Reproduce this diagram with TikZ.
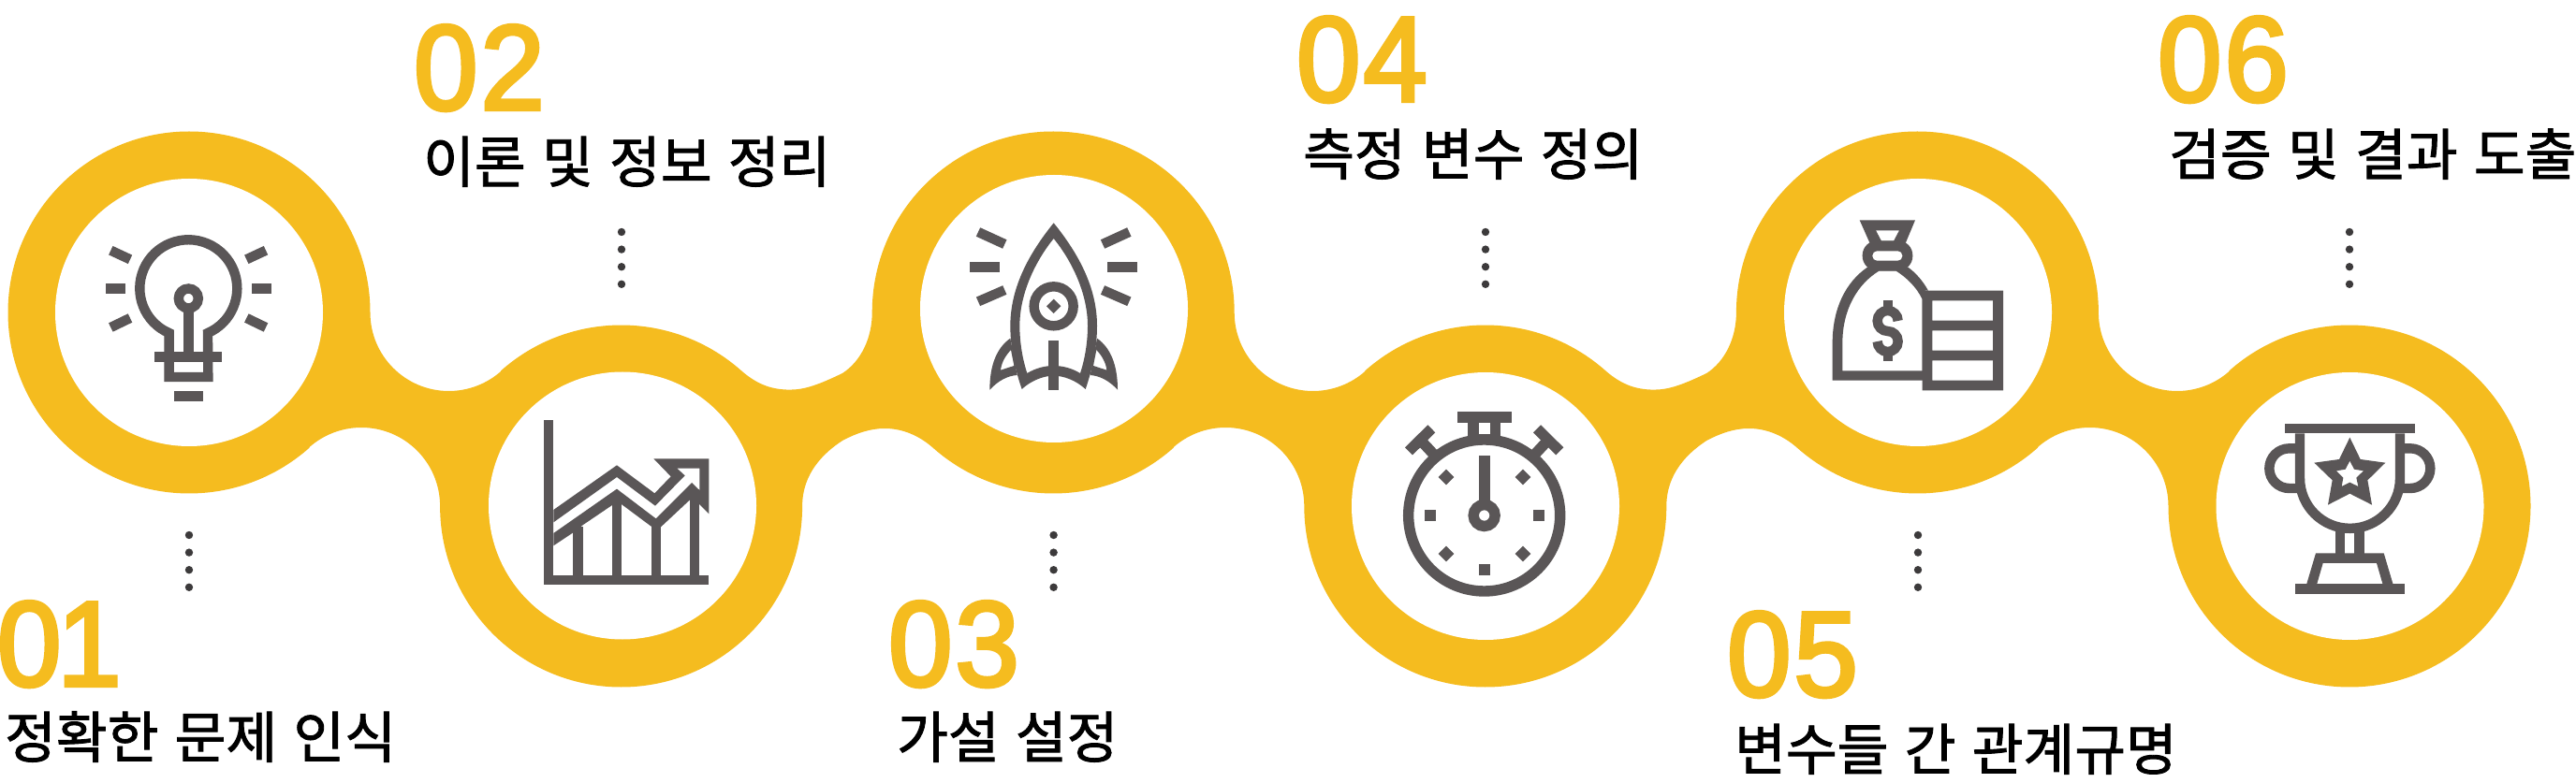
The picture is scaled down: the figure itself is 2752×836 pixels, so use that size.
\documentclass[tikz,border=0pt]{standalone}
\usepackage{fontspec}
\newfontfamily\kofont[WordSpace=1.3,FakeBold=1.5]{Noto Sans CJK KR}
\newfontfamily\numfont[FakeBold=3.2,FakeStretch=0.95,LetterSpace=2.5]{Liberation Sans}
\definecolor{band}{HTML}{F5BC1F}
\definecolor{ink}{HTML}{5A5657}
\definecolor{dotc}{HTML}{3C3A3B}
\tikzset{
  disc/.style={circle,fill=white,draw=none,inner sep=0pt,minimum size=286pt},
  numlabel/.style={anchor=base west,inner sep=0pt,text=band,font=\numfont\fontsize{129}{129}\selectfont},
  steplabel/.style={anchor=base west,inner sep=0pt,text=black,font=\kofont\fontsize{59.5}{60}\selectfont},
  dotmark/.style={fill=dotc},
  icon/.style={x=0.33333pt,y=-0.33333pt},
  stroke/.style={draw=ink,line width=10.4pt,line join=miter,fill=none},
  solid ink/.style={fill=ink,draw=none},
}
\def\arcat#1#2#3#4#5{-- ([shift={(#3:#5)}]#1,#2) arc (#3:#4:#5)}
\newcommand{\dotsat}[2]{\foreach \k in {0,1,2,3}{\fill[dotmark] (#1,{836-#2-18.6*\k}) circle[radius=4.2];}}
\begin{document}
\begin{tikzpicture}[x=1pt,y=1pt]
\useasboundingbox (0,0) rectangle (2752,836);
\fill[white] (0,0) rectangle (2752,836);
% band
\fill[band] ([shift={(180:193.5)}]202,502) arc (180:0:193.5)
 \arcat{479.5}{502}{180}{311.65}{84}
 \arcat{663.6}{295}{131.65}{48.35}{193.5}
 .. controls (810,424) and (826,419.4) .. (844,419.4)
 .. controls (860,419.4) and (875,425) .. (900,437)
 .. controls (920,450) and (931.7,475) .. (931.7,502)
 \arcat{1125.2}{502}{180}{0}{193.5}
 \arcat{1402.7}{502}{180}{311.65}{84}
 \arcat{1586.8}{295}{131.65}{48.35}{193.5}
 .. controls (1733.2,424) and (1749.2,419.4) .. (1767.2,419.4)
 .. controls (1783.2,419.4) and (1798.2,425) .. (1823.2,437)
 .. controls (1843.2,450) and (1854.9,475) .. (1854.9,502)
 \arcat{2048.4}{502}{180}{0}{193.5}
 \arcat{2325.9}{502}{180}{311.65}{84}
 \arcat{2510}{295}{131.65}{-180}{193.5}
 \arcat{2232.5}{295}{0}{131.65}{84}
 \arcat{2048.4}{502}{-48.35}{-131.65}{193.5}
 .. controls (1903.2,372) and (1885.2,378) .. (1868.2,378)
 .. controls (1853.2,378) and (1838.2,373) .. (1823.2,365)
 .. controls (1803.2,352) and (1780.3,330) .. (1780.3,295)
 \arcat{1586.8}{295}{0}{-180}{193.5}
 \arcat{1309.3}{295}{0}{131.65}{84}
 \arcat{1125.2}{502}{-48.35}{-131.65}{193.5}
 .. controls (980,372) and (962,378) .. (945,378)
 .. controls (930,378) and (915,373) .. (900,365)
 .. controls (880,352) and (857.1,330) .. (857.1,295)
 \arcat{663.6}{295}{0}{-180}{193.5}
 \arcat{386.1}{295}{0}{131.65}{84}
 \arcat{202}{502}{-48.35}{-180}{193.5}
 -- cycle;
% discs
\node[disc] (c1) at (202,502) {};
\node[disc] (c2) at (665,295.5) {};
\node[disc] (c3) at (1126,506) {};
\node[disc] (c4) at (1587,295) {};
\node[disc] (c5) at (2049,502) {};
\node[disc] (c6) at (2510.5,295) {};
% dots
\dotsat{202}{572}\dotsat{664}{248}\dotsat{1125.6}{572}\dotsat{1587}{248}\dotsat{2049}{572}\dotsat{2510}{248}
% bulb
\begin{scope}[shift={(80,616)},icon]
 \draw[stroke] (302,549) -- (302,408) arc (113.4:426.6:156) -- (427,549) -- cycle;
 \fill[solid ink] (255,468) rectangle (472,500);
 \draw[stroke] (364,297) circle[radius=31.5];
 \draw[stroke] (364.5,328) -- (364.5,470);
 \fill[solid ink] (318,595) rectangle (411,627);
 \fill[solid ink] (98,250) rectangle (162,282);
 \fill[solid ink] (566,250) rectangle (630,282);
 \draw[stroke] (115,143) -- (177,172);
 \draw[stroke] (612,143) -- (550,172);
 \draw[stroke] (115,390) -- (177,360);
 \draw[stroke] (612,390) -- (550,360);
\end{scope}
% chart
\begin{scope}[shift={(560,406)},icon]
 \fill[solid ink] (63,57) rectangle (94,586);
 \fill[solid ink] (63,555) rectangle (592,586);
 \fill[solid ink] (157,400) rectangle (189,555);
 \fill[solid ink] (282,300) rectangle (313,555);
 \fill[solid ink] (407,385) rectangle (438,555);
 \fill[solid ink] (531,280) rectangle (561,555);
 \fill[solid ink,even odd rule] (94,345) -- (297,202) -- (418,292) -- (470,238) -- (415,181) -- (592,181) -- (592,358) -- (561,327) -- (531,313) -- (438,400) -- (407,398) -- (313,328) -- (282,330) -- (189,393) -- (157,418) -- (94,460) -- cycle
  (94,385) -- (297,240) -- (420,332) -- (515,235) -- (490,212) -- (562,212) -- (562,283) -- (537,258) -- (422,373) -- (297,278) -- (94,420) -- cycle;
\end{scope}
% rocket
\begin{scope}[shift={(1020,616)},icon]
 \fill[solid ink,even odd rule] (317,55) .. controls (240,150) and (178,260) .. (178,385) .. controls (178,460) and (195,530) .. (215,588) .. controls (245,560) and (285,545) .. (317,545) .. controls (349,545) and (389,560) .. (419,588) .. controls (439,530) and (456,460) .. (456,385) .. controls (456,260) and (394,150) .. (317,55) -- cycle
  (317,105) .. controls (260,175) and (208,280) .. (208,385) .. controls (208,440) and (218,495) .. (232,537) .. controls (260,520) and (290,513) .. (317,513) .. controls (344,513) and (374,520) .. (402,537) .. controls (416,495) and (426,440) .. (426,385) .. controls (426,280) and (374,175) .. (317,105) -- cycle;
 \fill[solid ink,even odd rule] (178,425) .. controls (135,455) and (112,510) .. (112,590) .. controls (140,560) and (170,545) .. (200,543) -- cycle
  (147,527) .. controls (150,500) and (165,478) .. (180,462) -- (190,513) -- cycle;
 \fill[solid ink,even odd rule] (456,425) .. controls (499,455) and (522,510) .. (522,590) .. controls (494,560) and (464,545) .. (434,543) -- cycle
  (487,527) .. controls (484,500) and (469,478) .. (454,462) -- (444,513) -- cycle;
 \fill[solid ink] (301,432) rectangle (333,590);
 \draw[stroke] (317,322) circle[radius=63];
 \fill[solid ink] (317,299) -- (340,322) -- (317,345) -- (294,322) -- cycle;
 \fill[solid ink] (48,180) rectangle (145,212);
 \fill[solid ink] (489,180) rectangle (584,212);
 \draw[stroke] (75,84) -- (160,123);
 \draw[stroke] (559,84) -- (474,123);
 \draw[stroke] (75,307) -- (160,270);
 \draw[stroke] (559,307) -- (474,270);
\end{scope}
% stopwatch
\begin{scope}[shift={(1480,416)},icon]
 \draw[stroke,line width=11.4pt] (317,393) circle[radius=243];
 \fill[solid ink] (230,61) rectangle (405,97);
 \fill[solid ink] (265,97) rectangle (300,145);
 \fill[solid ink] (335,97) rectangle (370,145);
 \fill[solid ink] (300,132) rectangle (335,145);
 \draw[stroke,line width=11.4pt] (75,187) -- (148,115);
 \draw[stroke,line width=11.4pt] (112,151) -- (155,197);
 \draw[stroke,line width=11.4pt] (559,187) -- (486,115);
 \draw[stroke,line width=11.4pt] (522,151) -- (479,197);
 \fill[solid ink] (300,202) rectangle (335,360);
 \draw[stroke,line width=11.4pt] (317,393) circle[radius=34.5];
 \fill[solid ink] (126,375) rectangle (162,411);
 \fill[solid ink] (474,375) rectangle (510,411);
 \fill[solid ink] (300,549) rectangle (335,585);
 \foreach \dx/\dy in {195/270,441/270,195/516,441/516}{
  \fill[solid ink] (\dx,\dy-25) -- (\dx+25,\dy) -- (\dx,\dy+25) -- (\dx-25,\dy) -- cycle;}
\end{scope}
% money bag
\begin{scope}[shift={(1930,616)},icon]
 \fill[solid ink,even odd rule] (170,46) -- (348,46) -- (315,125) -- (205,125) -- cycle
  (222,79) -- (297,79) -- (279,113) -- (240,113) -- cycle;
 \fill[solid ink,rounded corners=15.5pt] (179,112) rectangle (340,208);
 \fill[white,rounded corners=5pt] (211,145) rectangle (307,176);
 \fill[solid ink,even odd rule] (195,197) .. controls (125,245) and (83,330) .. (83,440) -- (83,560) -- (380,560) -- (380,272) -- (390,272) .. controls (372,240) and (350,215) .. (325,197) -- cycle
  (232,209) .. controls (165,250) and (115,330) .. (115,440) -- (115,529) -- (371,529) -- (371,300) .. controls (352,260) and (320,230) .. (287,209) -- cycle;
 \fill[solid ink,even odd rule] (371,272) rectangle (630,592)
  (403,304) rectangle (597,368)
  (403,400) rectangle (597,464)
  (403,496) rectangle (597,560);
 \fill[solid ink] (245,304) rectangle (276,340);
 \fill[solid ink] (245,465) rectangle (276,497);
 \draw[stroke] (293,369) arc (0:-180:33) arc (180:90:33) arc (-90:180:33);
\end{scope}
% trophy
\begin{scope}[shift={(2400,406)},icon]
 \fill[solid ink] (122,68) rectangle (540,100);
 \draw[stroke] (171,100) -- (171,244) arc (180:0:160.5) -- (492,100);
 \draw[stroke] (165,148) -- (137,148) arc (-90:-270:64) -- (165,276);
 \draw[stroke] (497,148) -- (525,148) arc (-90:90:64) -- (497,276);
 \draw[stroke] (300,405) -- (300,490);
 \draw[stroke] (362,405) -- (362,490);
 \fill[solid ink,even odd rule] (222,484) -- (440,484) -- (470,585) -- (192,585) -- cycle
  (245,516) -- (417,516) -- (437,585) -- (225,585) -- cycle;
 \fill[solid ink] (155,582) rectangle (508,615);
 \fill[solid ink,even odd rule] (331,113) -- (365,183) -- (445,194) -- (388,250) -- (402,329) -- (331,293) -- (261,329) -- (275,250) -- (217,194) -- (297,183) -- cycle
  (331,188) -- (345,215) -- (375,220) -- (352,242) -- (358,270) -- (331,257) -- (305,270) -- (310,242) -- (288,220) -- (317,215) -- cycle;
\end{scope}
% numbers
\node[numlabel] (n1) at (-3,{836-733}) {0\kern-4pt 1};
\node[numlabel] (n2) at (442,{836-117}) {02};
\node[numlabel] (n3) at (949,{836-733}) {03};
\node[numlabel] (n4) at (1385,{836-108}) {04};
\node[numlabel] (n5) at (1845,{836-744}) {05};
\node[numlabel] (n6) at (2305,{836-108}) {06};
% step labels
\node[steplabel] (t1) at (5,{836-810}) {정확한 문제 인식};
\node[steplabel] (t2) at (452,{836-195}) {이론 및 정보 정리};
\node[steplabel] (t3) at (958,{836-810}) {가설 설정};
\node[steplabel] (t4) at (1392,{836-187}) {측정 변수 정의};
\node[steplabel] (t5) at (1853,{836-823}) {변수들 간 관계규명};
\node[steplabel] (t6) at (2317,{836-187}) {검증 및 결과 도출};
\end{tikzpicture}
\end{document}
